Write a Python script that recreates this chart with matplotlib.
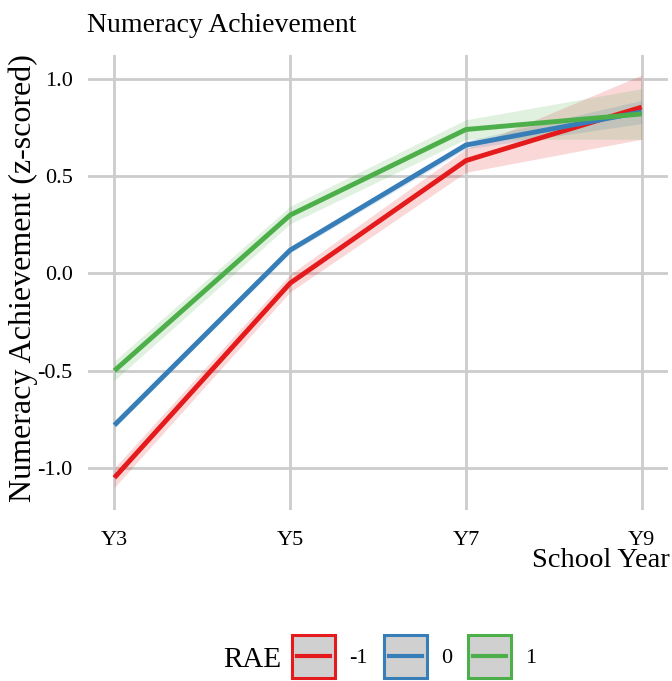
import matplotlib
matplotlib.use("Agg")
import matplotlib.pyplot as plt
from matplotlib.patches import Patch
from matplotlib.lines import Line2D
from matplotlib.legend_handler import HandlerLine2D

plt.rcParams['font.family'] = ['Liberation Serif', 'DejaVu Serif']

years = ["Y3", "Y5", "Y7", "Y9"]
groups = ["-1", "0", "1"]
colors = ["#E41A1C", "#377EB8", "#4DAF4A"]

# mean achievement per RAE group
mean_m1 = [-1.05, -0.05, 0.58, 0.855]
mean_0 = [-0.78, 0.12, 0.66, 0.83]
mean_p1 = [-0.50, 0.30, 0.74, 0.82]

# half-width of the confidence ribbon
ci_m1 = [0.05, 0.045, 0.06, 0.165]
ci_0 = [0.015, 0.015, 0.02, 0.06]
ci_p1 = [0.05, 0.045, 0.05, 0.13]

means = [mean_m1, mean_0, mean_p1]
cis = [ci_m1, ci_0, ci_p1]


class InsetLine(HandlerLine2D):
    # legend key line drawn inside the key box, centred, like ggplot
    def get_xdata(self, legend, xdescent, ydescent, width, height, fontsize):
        inset = 0.12 * width
        xs = [-xdescent + inset, -xdescent + width - inset]
        return xs, xs

    def create_artists(self, legend, orig_handle, xdescent, ydescent,
                       width, height, fontsize, trans):
        # line y is (height - ydescent) / 2; doubling ydescent puts it mid-box
        return super().create_artists(legend, orig_handle, xdescent, 2 * ydescent,
                                      width, height, fontsize, trans)


W, H = 672, 681
fig = plt.figure(figsize=(W / 100, H / 100), dpi=100)
ax = fig.add_axes([88 / W, 1 - 510 / H, 580 / W, 455 / H])

x = list(range(len(years)))
for m, c, col in zip(means, cis, colors):
    lo = [a - b for a, b in zip(m, c)]
    hi = [a + b for a, b in zip(m, c)]
    ax.fill_between(x, lo, hi, color=col, alpha=0.17, linewidth=0, zorder=2)
for m, col in zip(means, colors):
    ax.plot(x, m, color=col, linewidth=3.5, zorder=3, solid_capstyle='butt')

ax.set_xlim(-0.15, 3.15)
ax.set_ylim(-1.216, 1.123)
ax.set_xticks(x)
ax.set_xticklabels(years)
ax.set_yticks([-1.0, -0.5, 0.0, 0.5, 1.0])
ax.set_yticklabels(["-1.0", "-0.5", "0.0", "0.5", "1.0"])
ax.tick_params(length=0, labelsize=16, colors='black')
ax.tick_params(axis='x', pad=15)
ax.tick_params(axis='y', pad=11)
ax.grid(True, color='#CCCCCC', linewidth=2)
ax.set_axisbelow(True)
for s in ax.spines.values():
    s.set_visible(False)

# axis titles and plot title placed like the ggplot layout
fig.text(23 / W, 1 - 278 / H, "Numeracy Achievement (z-scored)", fontsize=23,
         rotation=90, ha='center', va='center')
fig.text(670 / W, 1 - 567 / H, "School Year", fontsize=20.5, ha='right', va='baseline')
fig.text(87 / W, 1 - 32 / H, "Numeracy Achievement", fontsize=20, ha='left', va='baseline')

handles = []
hmap = {}
for col in colors:
    ln = Line2D([], [], color=col, linewidth=3)
    hmap[ln] = InsetLine()
    handles.append((Patch(facecolor='#D0D0D0', edgecolor=col, linewidth=2.2), ln))
fig.legend(handles, groups, loc='center left', bbox_to_anchor=(292 / W, 1 - 656 / H),
           ncol=3, frameon=False, fontsize=16, handlelength=1.94, handleheight=2.6,
           handletextpad=0.63, columnspacing=0.72, borderpad=0, borderaxespad=0,
           handler_map=hmap)
fig.text(223 / W, 1 - 667 / H, "RAE", fontsize=21, va='baseline', ha='left')

fig.savefig("out.png", dpi=100)
